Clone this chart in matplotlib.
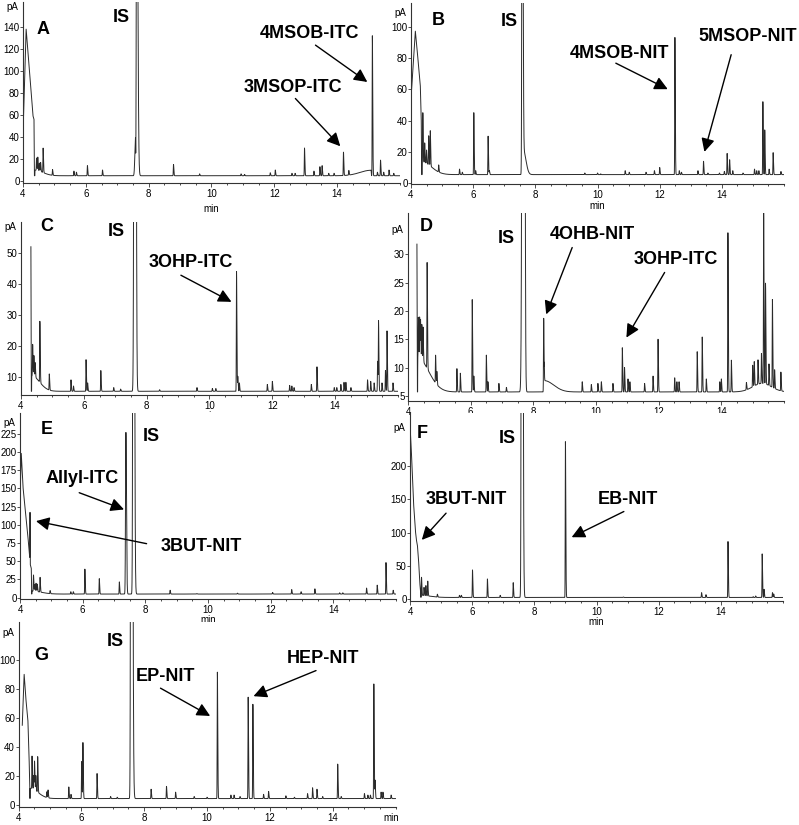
import numpy as np
import matplotlib.pyplot as plt
from matplotlib.ticker import MultipleLocator

plt.rcParams['font.family'] = ['Liberation Sans', 'DejaVu Sans']

# ---- panel A ----
a_base = 4.8
a_front_t = [4.01, 4.10, 4.22, 4.32, 4.35, 4.36]
a_front_y = [52, 138, 95, 59, 56, 8]
a_peak_t = [4.43, 4.47, 4.52, 4.56, 4.64, 4.94, 5.62, 5.70, 6.05, 6.53, 8.79, 9.62, 10.94, 11.05,
            11.87, 12.03, 12.56, 12.66, 12.96, 13.26, 13.45, 13.52, 13.73, 13.90, 14.20, 14.37,
            15.12, 15.28, 15.38, 15.48, 15.65, 15.80]
a_peak_y = [16, 17, 12, 13, 27, 10, 9, 8, 14, 10, 15, 6.5, 6.5, 6, 7.5, 10, 7, 7, 30, 9, 13, 14,
            7, 7, 26, 9, 132, 8, 19, 8, 10, 7]
a_humps = [(4.38, 5, 0.001, 0.25), (7.58, 33, 0.02, 0.005), (7.62, 400, 0.012, 0.03),
           (15.08, 5, 0.35, 0.005)]

# ---- panel B ----
b_base = 5.5
b_front_t = [4.02, 4.14, 4.22, 4.30, 4.33, 4.34]
b_front_y = [60, 97, 80, 62, 40, 8]
b_peak_t = [4.38, 4.44, 4.50, 4.57, 4.62, 4.89, 5.56, 5.65, 6.02, 6.08, 6.48, 6.52, 9.59, 10.00,
            10.10, 10.89, 11.02, 11.56, 11.83, 12.00, 12.49, 12.63, 12.70, 13.23, 13.41, 13.55,
            13.92, 14.08, 14.17, 14.25, 14.35, 14.68, 15.05, 15.12, 15.19, 15.32, 15.38, 15.52,
            15.65, 15.90]
b_peak_y = [37, 18, 14, 24, 28, 10, 9, 7, 45, 8, 30, 8, 6.5, 6.5, 6, 8, 7, 7, 8, 10, 93, 8, 7, 8,
            14, 6.5, 6.5, 7.5, 19, 15, 8, 6.5, 9, 8, 8, 52, 34, 9, 19.5, 7.5]
b_humps = [(4.36, 8, 0.001, 0.3), (7.58, 400, 0.012, 0.02), (7.62, 15, 0.005, 0.08)]

# ---- panel C ----
c_base = 5.3
c_front_t = [4.315, 4.325]
c_front_y = [52, 10]
c_peak_t = [4.37, 4.41, 4.45, 4.60, 4.90, 5.59, 5.67, 6.07, 6.12, 6.54, 6.95, 7.17, 8.41, 9.60,
            10.09, 10.20, 10.86, 10.90, 10.95, 11.84, 12.00, 12.55, 12.62, 12.69, 13.24, 13.42,
            13.97, 14.05, 14.18, 14.28, 14.34, 14.50, 15.03, 15.13, 15.24, 15.35, 15.38, 15.49,
            15.60, 15.65, 15.84]
c_peak_y = [15.5, 12, 10, 25, 10.5, 9, 7, 15.5, 8, 12, 6.5, 6, 5.8, 6.5, 6.2, 6.2, 44, 10, 8, 7.5,
            8.5, 7.2, 7, 6.5, 7.5, 13.2, 6.5, 6.5, 7.5, 8.2, 8.2, 6.5, 9, 8.5, 8, 15, 27.7, 8,
            12, 24.8, 8]
c_humps = [(4.34, 5, 0.001, 0.25), (7.625, 600, 0.02, 0.025)]

# ---- panel D ----
d_base = 5.7
d_front_t = [4.285, 4.30]
d_front_y = [31.8, 7.5]
d_peak_t = [4.33, 4.37, 4.40, 4.44, 4.48, 4.61, 4.88, 4.92, 5.56, 5.67, 6.05, 6.10, 6.50, 6.55,
            6.90, 7.14, 8.33, 9.56, 9.85, 10.06, 10.17, 10.54, 10.84, 10.91, 11.02, 11.08, 11.55,
            11.82, 11.98, 12.51, 12.58, 12.65, 13.23, 13.39, 13.52, 13.95, 14.00, 14.21, 14.32,
            14.80, 15.00, 15.05, 15.17, 15.28, 15.35, 15.41, 15.52, 15.63, 15.70, 15.90]
d_peak_y = [12.9, 13, 12.4, 12, 11.8, 24.4, 10.6, 8, 9.8, 9, 22, 8.5, 12.2, 7.5, 7.2, 6.5, 18.7,
            7.5, 7, 7.2, 7.5, 7.2, 13.5, 10, 8, 7.5, 7.2, 8.5, 15, 8.2, 7.5, 7.5, 12.8, 15.4, 8,
            7.5, 8, 33.8, 11.3, 7, 9.5, 10, 10, 11, 36.6, 23.5, 9.5, 21.2, 9, 9]
d_humps = [(4.31, 6, 0.001, 0.35), (7.69, 400, 0.03, 0.025), (8.35, 2, 0.001, 0.3),
           (15.3, 1.5, 0.3, 0.3)]

# ---- panel E ----
e_base = 4.8
e_front_t = [4.01, 4.04, 4.10, 4.18, 4.26, 4.31, 4.32, 4.33, 4.36, 4.37]
e_front_y = [150, 198, 150, 115, 80, 55, 117, 45, 40, 8]
e_peak_t = [4.43, 4.47, 4.51, 4.55, 4.64, 4.96, 5.62, 5.70, 6.07, 6.53, 7.17, 8.79, 9.64, 10.94,
            12.06, 12.67, 12.97, 13.41, 14.20, 14.30, 15.06, 15.40, 15.68, 15.91]
e_peak_y = [27, 14, 16, 15, 25, 9, 8, 8, 39, 26, 21.5, 10, 5.5, 6, 7, 11, 8, 12, 6.5, 6.5, 13,
            17, 48, 10]
e_humps = [(4.38, 4, 0.001, 0.3), (7.38, 222, 0.012, 0.018), (7.62, 1500, 0.015, 0.025)]

# ---- panel F ----
f_base = 2.8
f_front_t = [4.00, 4.05, 4.12, 4.18, 4.21, 4.24, 4.28, 4.32, 4.35]
f_front_y = [262, 215, 140, 100, 88, 80, 55, 22, 6]
f_peak_t = [4.37, 4.45, 4.51, 4.57, 4.88, 5.59, 5.65, 6.01, 6.49, 6.90, 7.32, 9.00, 10.86, 13.38,
            13.52, 14.23, 15.04, 15.12, 15.33, 15.39, 15.66, 15.70]
f_peak_y = [30, 15, 18, 25, 7, 6, 6, 44, 30.5, 6, 25, 236, 3.5, 10, 7, 86.5, 4, 5, 68, 15, 10, 8]
f_humps = [(4.36, 3, 0.001, 0.3), (7.60, 2000, 0.015, 0.025)]

# ---- panel G ----
g_base = 4.6
g_front_t = [4.12, 4.18, 4.24, 4.30, 4.34, 4.36]
g_front_y = [55, 90, 72, 58, 30, 12]
g_peak_t = [4.43, 4.48, 4.51, 4.55, 4.61, 4.90, 4.94, 5.60, 5.67, 6.01, 6.05, 6.50, 6.93, 7.14,
            8.22, 8.71, 9.00, 9.59, 10.00, 10.33, 10.76, 10.86, 11.05, 11.31, 11.46, 11.80, 11.96,
            12.51, 12.78, 13.20, 13.36, 13.50, 13.68, 14.16, 14.27, 15.01, 15.12, 15.20, 15.31,
            15.35, 15.54, 15.60, 15.86]
g_peak_y = [27, 14, 24, 15, 29, 8.5, 10, 12.6, 7.5, 30, 43, 21.8, 6, 5.5, 11, 13, 9, 6, 5.5, 91.5,
            7, 7, 6, 74.3, 69.4, 7.5, 9.5, 6.5, 5.5, 8, 12, 11, 6, 28.3, 6, 8, 7, 7, 83.4, 17, 9,
            9, 7]
g_humps = [(4.37, 7, 0.001, 0.25), (7.59, 1000, 0.015, 0.03)]

W, H = 799, 825
fig = plt.figure(figsize=(W / 100, H / 100), dpi=100)
t = np.arange(4.0, 16.0, 0.001)


def gauss(tt, rt, h, sl, sr):
    s = np.where(tt < rt, sl, sr)
    return h * np.exp(-0.5 * ((tt - rt) / s) ** 2)


def trace(base, front_t, front_y, peaks_t, peaks_y, humps):
    tt = t[t > front_t[-1] + 0.0005]
    y = np.full_like(tt, base)
    for rt, ap in zip(peaks_t, peaks_y):
        y += gauss(tt, rt, max(ap - base, 0), 0.006, 0.012)
    for rt, h, sl, sr in humps:
        y += gauss(tt, rt, h, sl, sr)
    return np.concatenate([front_t, tt]), np.concatenate([front_y, y])


def panel(box, ylim, yticks, data, letter, notes, pa_y, labelpad):
    left, width, top, bottom = box
    ax = fig.add_axes([left / W, 1 - bottom / H, width / W, (bottom - top) / H])
    x, y = trace(*data)
    ax.plot(x, y, color='#2a2a2a', lw=0.7)
    ax.set_xlim(4, 16)
    ax.set_ylim(*ylim)
    ax.set_xticks([4, 6, 8, 10, 12, 14])
    ax.xaxis.set_minor_locator(MultipleLocator(0.5))
    ax.set_yticks(yticks)
    for s in ['top', 'right']:
        ax.spines[s].set_visible(False)
    for s in ['left', 'bottom']:
        ax.spines[s].set_linewidth(0.8)
        ax.spines[s].set_color('#333333')
    ax.tick_params(labelsize=7, length=3, width=0.6, pad=1, color='#333333')
    ax.tick_params(axis='y', length=2, pad=0.5)
    ax.tick_params(which='minor', length=1.5, width=0.5)
    if labelpad is not None:
        ax.set_xlabel('min', fontsize=7, labelpad=labelpad)
    else:
        ax.text(0.988, -0.06, 'min', transform=ax.transAxes, fontsize=7, ha='center', va='center')
    ax.text(-0.012, pa_y, 'pA', transform=ax.get_yaxis_transform(), fontsize=7,
            ha='right', va='center')
    ax.text(letter[0], letter[1], letter[2], fontsize=13, fontweight='bold', ha='center', va='center')
    for label, tx, ty, tail, tip in notes:
        ax.text(tx, ty, label, fontsize=13, fontweight='bold', ha='center', va='center')
        if tail is not None:
            ax.annotate('', xy=tip, xytext=tail,
                        arrowprops=dict(arrowstyle='-|>', mutation_scale=20, lw=1.0,
                                        color='black', shrinkA=0, shrinkB=0))
    return ax


panel((23, 377, 2, 183), (-1.8, 162.7), range(0, 141, 20),
      (a_base, a_front_t, a_front_y, a_peak_t, a_peak_y, a_humps),
      (4.63, 138, 'A'),
      [('IS', 7.14, 149, None, None),
       ('4MSOB-ITC', 13.13, 134, (13.31, 123.5), (14.96, 90)),
       ('3MSOP-ITC', 12.6, 85, (12.67, 75), (14.1, 31.6))],
      158, 3.6)

panel((411, 373, 3, 184), (-0.5, 115), range(0, 101, 20),
      (b_base, b_front_t, b_front_y, b_peak_t, b_peak_y, b_humps),
      (4.87, 104, 'B'),
      [('IS', 7.15, 103, None, None),
       ('4MSOB-NIT', 10.7, 83, (10.59, 76.6), (12.26, 60)),
       ('5MSOP-NIT', 14.84, 93.6, (14.3, 82), (13.44, 20))],
      108.7, 0.7)

panel((21, 377, 222, 395), (4.1, 60), range(10, 51, 10),
      (c_base, c_front_t, c_front_y, c_peak_t, c_peak_y, c_humps),
      (4.82, 58.5, 'C'),
      [('IS', 7.03, 56.8, None, None),
       ('3OHP-ITC', 9.39, 47, (9.09, 42.8), (10.7, 34.2))],
      58.5, 0)

panel((408, 376, 213, 401), (4.1, 37.3), range(5, 31, 5),
      (d_base, d_front_t, d_front_y, d_peak_t, d_peak_y, d_humps),
      (4.59, 35, 'D'),
      [('IS', 7.14, 32.8, None, None),
       ('4OHB-NIT', 9.9, 33.5, (9.24, 31.2), (8.41, 19.4)),
       ('3OHP-ITC', 12.56, 29.1, (12.19, 26.8), (10.97, 15.3))],
      34.3, 0.7)

panel((20, 376, 413, 599), (-2, 253.5), range(0, 226, 25),
      (e_base, e_front_t, e_front_y, e_peak_t, e_peak_y, e_humps),
      (4.85, 231, 'E'),
      [('IS', 8.2, 221, None, None),
       ('Allyl-ITC', 6.0, 164, (5.89, 144), (7.32, 121)),
       ('3BUT-NIT', 9.8, 70, (8.04, 74), (4.51, 105))],
      240, 0)

panel((410, 373, 413, 601), (-2.5, 279), range(0, 201, 50),
      (f_base, f_front_t, f_front_y, f_peak_t, f_peak_y, f_humps),
      (4.41, 249, 'F'),
      [('IS', 7.13, 241, None, None),
       ('3BUT-NIT', 5.82, 149, (5.16, 129), (4.38, 89)),
       ('EB-NIT', 11.02, 149, (10.88, 131.5), (9.2, 93))],
      257, 0)

panel((18.5, 377, 622, 807), (-1.2, 126), range(0, 101, 20),
      (g_base, g_front_t, g_front_y, g_peak_t, g_peak_y, g_humps),
      (4.74, 103, 'G'),
      [('IS', 7.09, 112.6, None, None),
       ('EP-NIT', 8.68, 88.5, (8.52, 80.5), (10.1, 61.4)),
       ('HEP-NIT', 13.68, 101, (13.47, 92.6), (11.48, 75))],
      118.6, None)

fig.savefig('out.png', dpi=100, facecolor='white')
